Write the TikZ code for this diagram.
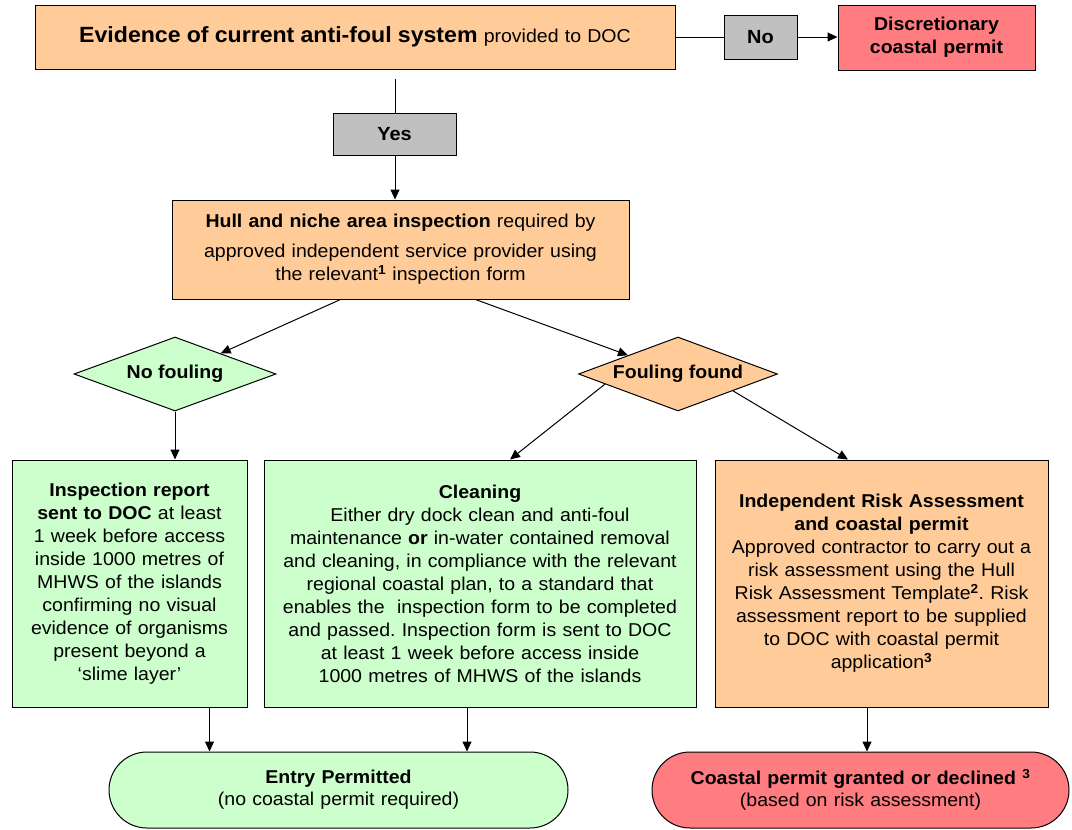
\documentclass[tikz,border=0pt]{standalone}
\usepackage{fontspec}
\setmainfont{Liberation Sans}[FakeStretch=1.05]
\usetikzlibrary{shapes.geometric,arrows.meta,calc}
\definecolor{boxorange}{HTML}{FFCC99}
\definecolor{boxgreen}{HTML}{CCFFCC}
\definecolor{boxred}{HTML}{FF7C80}
\definecolor{boxgray}{HTML}{C0C0C0}
\begin{document}
\frenchspacing
\begin{tikzpicture}[x=1pt,y=-1pt,
  box/.style={draw=black,line width=1pt,inner sep=0pt,align=center,
    font=\fontsize{18.6}{23}\selectfont},
  dia/.style={draw=black,line width=1pt,diamond,inner sep=0pt,aspect=2.7,
    font=\fontsize{18.6}{23}\selectfont\bfseries},
  stadium/.style={box,rounded corners=38pt,minimum height=76pt},
  conn/.style={line width=1pt},
  arr/.style={line width=1pt,-{Triangle[length=10pt,width=9pt]}}]
\useasboundingbox (0,0) rectangle (1072,830);

\node[box,fill=boxorange,text width=640pt,minimum height=64pt] (title) at (355,37)
  {{\fontsize{22}{23}\selectfont\bfseries Evidence of current anti-foul system} provided to DOC};
\node[box,fill=boxgray,text width=73pt,minimum height=44pt,font=\fontsize{19}{23}\selectfont\bfseries] (no) at (760.5,37) {No};
\node[box,fill=boxred,text width=197pt,minimum height=65pt,font=\fontsize{18.6}{23}\selectfont\bfseries] (disc) at (936.5,37.5) {Discretionary\\coastal permit};
\node[box,fill=boxgray,text width=123pt,minimum height=42pt,font=\fontsize{19}{23}\selectfont\bfseries] (yes) at (394.5,134) {Yes};
\coordinate (ystart) at (395,79);

\node[box,fill=boxorange,text width=457pt,minimum height=99pt] (hull) at (400.5,249.5)
  {\textbf{Hull and niche area inspection} required by\\[7pt]
   approved independent service provider using\\
   the relevant\textsuperscript{\bfseries 1} inspection form};

\node[dia,fill=boxgreen,minimum width=202pt,minimum height=74pt] (nofoul) at (175,374) {No fouling};
\node[dia,fill=boxorange,minimum width=199pt,minimum height=74pt] (foul) at (678,374) {Fouling found};

\node[box,fill=boxgreen,text width=235pt,minimum height=247pt] (insp) at (129.5,583.5)
  {\textbf{Inspection report}\\
   \textbf{sent to DOC} at least\\
   1 week before access\\
   inside 1000 metres of\\
   MHWS of the islands\\
   confirming no visual\\
   evidence of organisms\\
   present beyond a\\
   ‘slime layer’};

\node[box,fill=boxgreen,text width=432pt,minimum height=247pt] (clean) at (480,583.5)
  {\textbf{Cleaning}\\
   Either dry dock clean and anti-foul\\
   maintenance \textbf{or} in-water contained removal\\
   and cleaning, in compliance with the relevant\\
   regional coastal plan, to a standard that\\
   enables the\ \ inspection form to be completed\\
   and passed. Inspection form is sent to DOC\\
   at least 1 week before access inside\\
   1000 metres of MHWS of the islands};

\node[box,fill=boxorange,text width=333pt,minimum height=247pt] (ira) at (881.5,583.5)
  {\textbf{Independent Risk Assessment}\\
   \textbf{and coastal permit}\\
   Approved contractor to carry out a\\
   risk assessment using the Hull\\
   Risk Assessment Template\textsuperscript{\bfseries 2}. Risk\\
   assessment report to be supplied\\
   to DOC with coastal permit\\
   application\textsuperscript{\bfseries 3}};

\node[stadium,fill=boxgreen,text width=459pt,font=\fontsize{18.6}{22}\selectfont] (entry) at (338.5,790)
  {\textbf{Entry Permitted}\\(no coastal permit required)};
\node[stadium,fill=boxred,text width=417pt,font=\fontsize{18.6}{22}\selectfont] (coastal) at (860.5,790)
  {\textbf{Coastal permit granted or declined \textsuperscript{3}}\\(based on risk assessment)};

% connectors
\draw[conn] (title.east) -- (no.west);
\draw[arr] (no.east) -- (no.east -| disc.west);
\draw[conn] (ystart) -- (ystart |- yes.north);
\draw[arr] (ystart |- yes.south) -- (ystart |- hull.north);
\draw[arr] ([xshift=-60pt]hull.south) -- ($(nofoul.north)!0.45!(nofoul.east)$);
\draw[arr] ([xshift=75pt]hull.south) -- ($(foul.north)!0.5!(foul.west)$);
\draw[arr] (nofoul.south) -- (nofoul.south |- insp.north);
\draw[arr] ($(foul.west)!0.27!(foul.south)$) -- ([xshift=30pt]clean.north);
\draw[arr] ($(foul.east)!0.45!(foul.south)$) -- ([xshift=-33.5pt]ira.north);
\draw[arr] ([xshift=80pt]insp.south) -- ([xshift=80pt]insp.south |- entry.north);
\draw[arr] ([xshift=-13pt]clean.south) -- ([xshift=-13pt]clean.south |- entry.north);
\draw[arr] ([xshift=-14.5pt]ira.south) -- ([xshift=-14.5pt]ira.south |- coastal.north);
\end{tikzpicture}
\end{document}
